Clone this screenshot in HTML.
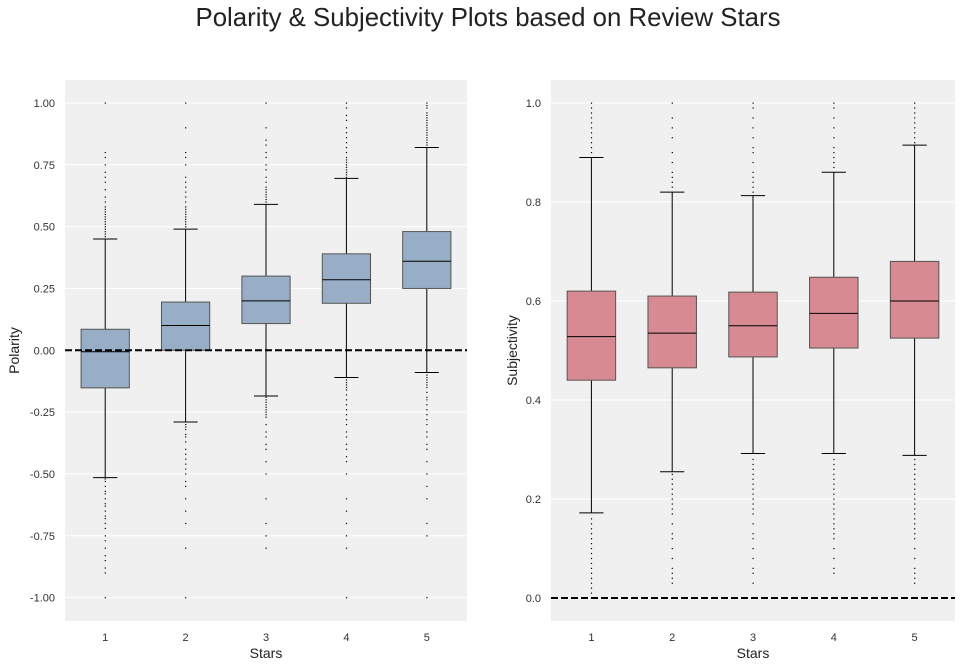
<!DOCTYPE html>
<html><head><meta charset="utf-8"><style>
body{margin:0;background:#fff;font-family:"Liberation Sans",Arial,sans-serif;}
svg{display:block}
</style></head><body>
<svg id="c" width="962" height="667" xmlns="http://www.w3.org/2000/svg">
<text x="488" y="26" font-size="25.8" text-anchor="middle" fill="#222">Polarity &amp; Subjectivity Plots based on Review Stars</text>
</svg>
<script>
const categories = ["1","2","3","4","5"];
const polLow = [-0.515,-0.29,-0.185,-0.11,-0.09];
const polQ1 = [-0.152,0.0,0.108,0.19,0.25];
const polMed = [-0.006,0.1,0.2,0.285,0.36];
const polQ3 = [0.085,0.195,0.3,0.39,0.48];
const polHigh = [0.45,0.49,0.59,0.695,0.82];
const polOutliers = [
 [1.0,0.8,0.78,0.75,0.72,0.7,0.68,0.65,0.62,0.6,0.58,0.57,0.56,0.55,0.54,0.53,0.52,0.51,0.5,0.49,0.48,0.47,0.46,-0.52,-0.53,-0.55,-0.57,-0.58,-0.6,-0.62,-0.63,-0.65,-0.67,-0.68,-0.7,-0.72,-0.75,-0.77,-0.8,-0.83,-0.85,-0.88,-0.9,-1.0],
 [1.0,0.9,0.8,0.78,0.75,0.7,0.68,0.66,0.64,0.62,0.6,0.58,0.57,0.56,0.55,0.54,0.53,0.52,0.51,0.5,-0.3,-0.31,-0.32,-0.34,-0.35,-0.37,-0.4,-0.42,-0.44,-0.46,-0.48,-0.5,-0.53,-0.55,-0.6,-0.65,-0.7,-0.8,-1.0],
 [1.0,0.9,0.85,0.83,0.8,0.78,0.75,0.73,0.7,0.68,0.66,0.65,0.64,0.63,0.62,0.61,0.6,-0.19,-0.2,-0.21,-0.22,-0.23,-0.24,-0.25,-0.26,-0.27,-0.3,-0.33,-0.35,-0.38,-0.4,-0.45,-0.5,-0.6,-0.7,-0.75,-0.8],
 [1.0,0.98,0.95,0.93,0.9,0.88,0.86,0.84,0.82,0.8,0.78,0.77,0.76,0.75,0.74,0.73,0.72,0.71,0.7,-0.12,-0.13,-0.14,-0.15,-0.16,-0.18,-0.2,-0.22,-0.24,-0.26,-0.28,-0.3,-0.33,-0.35,-0.38,-0.4,-0.43,-0.45,-0.5,-0.6,-0.65,-0.7,-0.75,-0.8,-1.0],
 [1.0,0.99,0.98,0.96,0.95,0.94,0.93,0.92,0.91,0.9,0.89,0.88,0.87,0.86,0.85,0.84,0.83,-0.1,-0.11,-0.12,-0.13,-0.14,-0.15,-0.17,-0.19,-0.2,-0.22,-0.24,-0.26,-0.28,-0.3,-0.33,-0.35,-0.38,-0.4,-0.45,-0.5,-0.55,-0.6,-0.7,-0.75,-1.0]
];
const subLow = [0.172,0.255,0.292,0.292,0.288];
const subQ1 = [0.44,0.465,0.487,0.505,0.525];
const subMed = [0.528,0.535,0.55,0.575,0.6];
const subQ3 = [0.62,0.61,0.618,0.648,0.68];
const subHigh = [0.89,0.82,0.813,0.86,0.915];
const subOutliers = [
 [1.0,0.99,0.98,0.97,0.96,0.95,0.94,0.93,0.92,0.91,0.9,0.16,0.15,0.14,0.13,0.12,0.11,0.1,0.09,0.08,0.07,0.06,0.05,0.04,0.03,0.02,0.01,0.0],
 [1.0,0.97,0.95,0.93,0.9,0.88,0.86,0.85,0.84,0.83,0.25,0.24,0.23,0.22,0.21,0.2,0.19,0.18,0.17,0.15,0.13,0.12,0.1,0.08,0.06,0.05,0.04,0.03],
 [1.0,0.99,0.97,0.95,0.93,0.91,0.9,0.88,0.86,0.85,0.84,0.83,0.82,0.28,0.27,0.26,0.25,0.24,0.23,0.22,0.21,0.2,0.19,0.18,0.17,0.15,0.13,0.12,0.1,0.08,0.06,0.05,0.03],
 [1.0,0.99,0.97,0.95,0.93,0.91,0.9,0.89,0.88,0.87,0.28,0.27,0.26,0.25,0.24,0.23,0.22,0.21,0.2,0.19,0.18,0.17,0.16,0.15,0.14,0.13,0.12,0.1,0.08,0.06,0.05],
 [1.0,0.99,0.98,0.97,0.96,0.95,0.94,0.93,0.92,0.28,0.27,0.26,0.25,0.24,0.23,0.22,0.21,0.2,0.19,0.18,0.17,0.16,0.15,0.14,0.13,0.12,0.1,0.08,0.06,0.05,0.04,0.03]
];
const polTicks = [-1.0,-0.75,-0.5,-0.25,0.0,0.25,0.5,0.75,1.0];
const polTickLabels = ["-1.00","-0.75","-0.50","-0.25","0.00","0.25","0.50","0.75","1.00"];
const subTicks = [0.0,0.2,0.4,0.6,0.8,1.0];
const subTickLabels = ["0.0","0.2","0.4","0.6","0.8","1.0"];

const svg = document.getElementById('c');
const NS = 'http://www.w3.org/2000/svg';
function mk(tag, attrs, parent){const e=document.createElementNS(NS,tag);for(const k in attrs)e.setAttribute(k,attrs[k]);(parent||svg).appendChild(e);return e;}

function panel(o){
  const g = mk('g',{});
  
  
  const x = i => o.x0 + (i+0.5)*(o.x1-o.x0)/5;
  const y = v => o.y1 - (v-o.ymin)/(o.ymax-o.ymin)*(o.y1-o.y0);
  const bg = mk('rect',{x:o.x0,y:o.y0,width:o.x1-o.x0,height:o.y1-o.y0,fill:'#f0f0f0'},g);
  
  
  o.ticks.forEach((t,k)=>{
    mk('line',{x1:o.x0,x2:o.x1,y1:y(t),y2:y(t),stroke:'#fff','stroke-width':1},g);
    const tl = mk('text',{x:o.x0-10,y:y(t)+4,'font-size':11,'text-anchor':'end',fill:'#333'},g);
    tl.textContent = o.tickLabels[k];
    
    
  });
  const hw = 0.3*(o.x1-o.x0)/5, cw = hw/2;
  categories.forEach((c,i)=>{
    const cx = x(i);
    const bx = mk('g',{},g);
    
    
    mk('line',{x1:cx,x2:cx,y1:y(o.high[i]),y2:y(o.q3[i]),stroke:'#000','stroke-width':1},bx);
    mk('line',{x1:cx,x2:cx,y1:y(o.q1[i]),y2:y(o.low[i]),stroke:'#000','stroke-width':1},bx);
    mk('line',{x1:cx-cw,x2:cx+cw,y1:y(o.high[i]),y2:y(o.high[i]),stroke:'#000','stroke-width':1},bx);
    mk('line',{x1:cx-cw,x2:cx+cw,y1:y(o.low[i]),y2:y(o.low[i]),stroke:'#000','stroke-width':1},bx);
    mk('rect',{x:cx-hw,y:y(o.q3[i]),width:2*hw,height:y(o.q1[i])-y(o.q3[i]),fill:o.color,stroke:'#555','stroke-width':1},bx);
    mk('line',{x1:cx-hw,x2:cx+hw,y1:y(o.med[i]),y2:y(o.med[i]),stroke:'#000','stroke-width':1},bx);
    o.out[i].forEach(v=>{
      const d = mk('rect',{x:cx-0.5,y:y(v)-0.5,width:1.2,height:1.2,fill:'#000'},bx);
      
      
    });
    const xl = mk('text',{x:cx,y:o.y1+20,'font-size':11,'text-anchor':'middle',fill:'#333'},g);
    xl.textContent = c;
    
    
  });
  const zl = mk('line',{x1:o.x0,x2:o.x1,y1:y(0),y2:y(0),stroke:'#000','stroke-width':2,'stroke-dasharray':'7,3'},g);
  
  
  const xt = mk('text',{x:(o.x0+o.x1)/2,y:o.y1+37,'font-size':14,'text-anchor':'middle',fill:'#222'},g);
  xt.textContent = 'Stars';
  
  
  const yt = mk('text',{x:0,y:0,'font-size':14,'text-anchor':'middle',fill:'#222',transform:`translate(${o.ytx},${(o.y0+o.y1)/2}) rotate(-90)`},g);
  yt.textContent = o.ytitle;
  
  
}
panel({name:'polarity-panel',x0:65,x1:467,y0:80,y1:621,ymin:-1.0947,ymax:1.0929,ticks:polTicks,tickLabels:polTickLabels,
  low:polLow,q1:polQ1,med:polMed,q3:polQ3,high:polHigh,out:polOutliers,color:'#98aec6',ytitle:'Polarity',ytx:19});
panel({name:'subjectivity-panel',x0:551,x1:955,y0:80,y1:621,ymin:-0.0465,ymax:1.0465,ticks:subTicks,tickLabels:subTickLabels,
  low:subLow,q1:subQ1,med:subMed,q3:subQ3,high:subHigh,out:subOutliers,color:'#d88a92',ytitle:'Subjectivity',ytx:517});
</script>
</body></html>
